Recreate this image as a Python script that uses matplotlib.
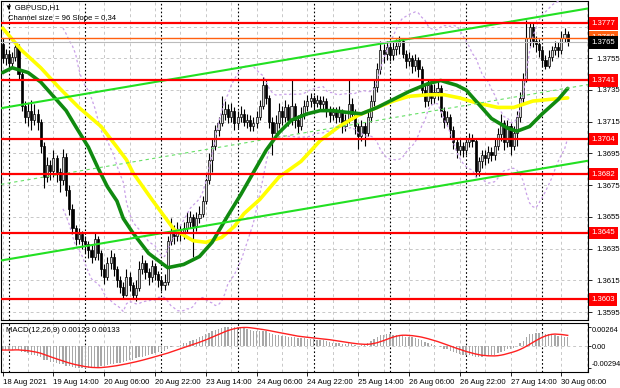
import numpy as np
import pandas as pd
import matplotlib
matplotlib.use("Agg")
import matplotlib.pyplot as plt
from matplotlib.transforms import blended_transform_factory

plt.rcParams["font.family"] = ["Liberation Sans", "DejaVu Sans"]

# ---------------- data (GBPUSD H1, 18 Aug 2021 22:00 -> 30 Aug 2021 08:00) -------------
first_open = 1.3764
closes = [1.3755,1.3758,1.3752,1.3756,1.3762,1.3745,1.3725,1.3718,1.3722,1.3716,
          1.3720,1.3715,1.3700,1.3680,1.3688,1.3684,1.3692,1.3683,1.3678,1.3693,
          1.3672,1.3660,1.3648,1.3641,1.3644,1.3640,1.3638,1.3634,1.3630,1.3641,
          1.3632,1.3622,1.3617,1.3626,1.3630,1.3622,1.3615,1.3611,1.3606,1.3617,
          1.3612,1.3606,1.3610,1.3622,1.3626,1.3620,1.3617,1.3624,1.3619,1.3615,
          1.3612,1.3614,1.3640,1.3646,1.3643,1.3647,1.3644,1.3648,1.3652,1.3655,
          1.3649,1.3654,1.3657,1.3665,1.3678,1.3691,1.3700,1.3710,1.3714,1.3720,
          1.3723,1.3718,1.3722,1.3714,1.3718,1.3720,1.3715,1.3716,1.3712,1.3714,
          1.3718,1.3725,1.3738,1.3730,1.3715,1.3708,1.3714,1.3722,1.3718,1.3724,
          1.3716,1.3725,1.3716,1.3712,1.3720,1.3725,1.3728,1.3730,1.3727,1.3729,
          1.3726,1.3728,1.3722,1.3719,1.3721,1.3718,1.3721,1.3712,1.3716,1.3726,
          1.3720,1.3712,1.3706,1.3712,1.3708,1.3718,1.3728,1.3737,1.3748,1.3760,
          1.3758,1.3762,1.3757,1.3761,1.3763,1.3766,1.3758,1.3753,1.3755,1.3750,
          1.3754,1.3748,1.3735,1.3728,1.3738,1.3730,1.3734,1.3736,1.3722,1.3715,
          1.3718,1.3710,1.3702,1.3697,1.3700,1.3697,1.3702,1.3705,1.3703,1.3684,
          1.3690,1.3694,1.3692,1.3696,1.3694,1.3700,1.3707,1.3714,1.3702,1.3712,
          1.3700,1.3708,1.3718,1.3730,1.3742,1.3768,1.3775,1.3766,1.3764,1.3760,
          1.3754,1.3750,1.3756,1.3760,1.3762,1.3760,1.3768,1.3770,1.3765]
highs = [1.3768,1.3761,1.3760,1.3759,1.3765,1.3764,1.3747,1.3728,1.3727,1.3729,
         1.3726,1.3723,1.3717,1.3702,1.3693,1.3691,1.3697,1.3694,1.3686,1.3698,
         1.3695,1.3675,1.3663,1.3650,1.3648,1.3646,1.3643,1.3640,1.3637,1.3645,
         1.3643,1.3634,1.3625,1.3630,1.3634,1.3632,1.3624,1.3618,1.3614,1.3622,
         1.3620,1.3614,1.3615,1.3627,1.3631,1.3628,1.3623,1.3628,1.3626,1.3621,
         1.3618,1.3619,1.3643,1.3654,1.3650,1.3652,1.3650,1.3652,1.3658,1.3659,
         1.3657,1.3658,1.3662,1.3668,1.3682,1.3695,1.3705,1.3713,1.3718,1.3731,
         1.3728,1.3726,1.3727,1.3724,1.3722,1.3725,1.3723,1.3720,1.3719,1.3718,
         1.3722,1.3729,1.3743,1.3741,1.3732,1.3718,1.3719,1.3727,1.3725,1.3729,
         1.3726,1.3741,1.3727,1.3719,1.3724,1.3729,1.3732,1.3733,1.3732,1.3732,
         1.3731,1.3731,1.3730,1.3725,1.3724,1.3724,1.3725,1.3723,1.3720,1.3742,
         1.3730,1.3723,1.3714,1.3716,1.3715,1.3722,1.3732,1.3741,1.3752,1.3766,
         1.3764,1.3766,1.3765,1.3765,1.3767,1.3769,1.3767,1.3760,1.3759,1.3757,
         1.3758,1.3756,1.3750,1.3738,1.3742,1.3741,1.3739,1.3741,1.3738,1.3724,
         1.3722,1.3720,1.3712,1.3705,1.3704,1.3702,1.3705,1.3708,1.3707,1.3704,
         1.3693,1.3697,1.3697,1.3700,1.3699,1.3704,1.3711,1.3720,1.3716,1.3716,
         1.3714,1.3712,1.3722,1.3734,1.3746,1.3779,1.3778,1.3778,1.3769,1.3767,
         1.3763,1.3757,1.3760,1.3763,1.3766,1.3765,1.3772,1.3774,1.3772]
lows = [1.3752,1.3751,1.3748,1.3749,1.3753,1.3742,1.3722,1.3714,1.3712,1.3710,
        1.3713,1.3710,1.3695,1.3673,1.3677,1.3678,1.3680,1.3677,1.3671,1.3675,
        1.3668,1.3656,1.3644,1.3637,1.3638,1.3635,1.3632,1.3629,1.3626,1.3628,
        1.3628,1.3618,1.3613,1.3615,1.3622,1.3618,1.3611,1.3607,1.3604,1.3605,
        1.3608,1.3603,1.3602,1.3608,1.3619,1.3616,1.3612,1.3614,1.3615,1.3611,
        1.3608,1.3609,1.3612,1.3637,1.3638,1.3640,1.3640,1.3641,1.3645,1.3648,
        1.3630,1.3646,1.3651,1.3655,1.3663,1.3676,1.3683,1.3697,1.3706,1.3712,
        1.3716,1.3714,1.3715,1.3710,1.3711,1.3715,1.3712,1.3711,1.3709,1.3709,
        1.3711,1.3716,1.3723,1.3726,1.3711,1.3694,1.3704,1.3711,1.3713,1.3715,
        1.3712,1.3713,1.3711,1.3708,1.3710,1.3717,1.3722,1.3724,1.3723,1.3724,
        1.3722,1.3722,1.3718,1.3715,1.3716,1.3714,1.3715,1.3708,1.3709,1.3714,
        1.3716,1.3707,1.3698,1.3703,1.3700,1.3706,1.3715,1.3725,1.3734,1.3745,
        1.3752,1.3754,1.3753,1.3754,1.3757,1.3758,1.3755,1.3749,1.3750,1.3746,
        1.3747,1.3743,1.3731,1.3724,1.3725,1.3726,1.3727,1.3729,1.3718,1.3711,
        1.3712,1.3705,1.3698,1.3692,1.3694,1.3693,1.3694,1.3699,1.3699,1.3680,
        1.3681,1.3686,1.3688,1.3689,1.3690,1.3691,1.3697,1.3703,1.3697,1.3699,
        1.3694,1.3697,1.3700,1.3715,1.3727,1.3740,1.3763,1.3762,1.3759,1.3756,
        1.3750,1.3748,1.3749,1.3753,1.3757,1.3756,1.3758,1.3765,1.3763]

# MACD(12,26,9) main values read per bar from the lower window
macd_main = [-0.0005,-0.0005,-0.0005,-0.0005,-0.0004,-0.0005,-0.0007,-0.0008,-0.0009,-0.0011,
             -0.0012,-0.0013,-0.0015,-0.0018,-0.0019,-0.0021,-0.0021,-0.0022,-0.0024,-0.0024,
             -0.0026,-0.0027,-0.0028,-0.0029,-0.0029,-0.0029,-0.0029,-0.0029,-0.0029,-0.0028,
             -0.0028,-0.0027,-0.0026,-0.0025,-0.0024,-0.0024,-0.0023,-0.0022,-0.0021,-0.0020,
             -0.0019,-0.0018,-0.0016,-0.0015,-0.0014,-0.0013,-0.0012,-0.0010,-0.0009,-0.0008,
             -0.0007,-0.0006,-0.0003,-0.0001,0.0000,0.0001,0.0002,0.0004,0.0005,0.0007,
             0.0008,0.0010,0.0012,0.0014,0.0016,0.0018,0.0020,0.0022,0.0023,0.0025,
             0.0026,0.00264,0.00262,0.0026,0.0026,0.0025,0.0024,0.0023,0.0022,0.0021,
             0.0021,0.0020,0.0021,0.0020,0.0018,0.0016,0.0015,0.0015,0.0014,0.0014,
             0.0013,0.0013,0.0012,0.0011,0.0011,0.0011,0.0010,0.0010,0.0010,0.0009,
             0.0009,0.0008,0.0007,0.0006,0.0005,0.0004,0.0004,0.0003,0.0003,0.0004,
             0.0003,0.0002,0.0001,0.0002,0.0002,0.0004,0.0007,0.0010,0.0013,0.0015,
             0.0015,0.0016,0.0016,0.0015,0.0015,0.0015,0.0014,0.0013,0.0013,0.0012,
             0.0011,0.0010,0.0008,0.0006,0.0005,0.0003,0.0002,0.0001,-0.0001,-0.0003,
             -0.0004,-0.0006,-0.0007,-0.0009,-0.0010,-0.0011,-0.0011,-0.0012,-0.0013,-0.0014,
             -0.0014,-0.0014,-0.0013,-0.0013,-0.0012,-0.0011,-0.0009,-0.0007,-0.0006,-0.0004,
             -0.0003,-0.0002,0.0000,0.0004,0.0007,0.0012,0.0016,0.0017,0.0018,0.0018,
             0.0017,0.0016,0.0016,0.0015,0.0015,0.0014,0.0014,0.0013,0.00123]

# moving averages (bar index, price)
ma_green_bars = [0,3,8,12,16,20,23,27,30,33,36,38,41,46,52,57,62,66,71,75,79,83,87,91,
                 96,100,104,108,113,118,123,128,134,138,143,146,150,154,159,162,166,170,175,178]
ma_green = [1.3746,1.3749,1.3746,1.3740,1.3731,1.3722,1.3712,1.3699,1.3686,1.3674,1.3665,
            1.3654,1.3645,1.3632,1.3623,1.3625,1.3630,1.3639,1.3656,1.3669,1.3683,1.3697,
            1.3708,1.3716,1.3720,1.3722,1.3722,1.3721,1.3720,1.3724,1.3729,1.3734,1.3739,
            1.3741,1.3738,1.3735,1.3726,1.3717,1.3711,1.3709,1.3712,1.3720,1.3729,1.3736]
ma_yellow_bars = [0,6,12,18,24,31,36,39,41,47,54,60,64,69,73,76,81,87,94,100,106,112,
                  118,123,128,134,139,144,149,156,161,167,172,178]
ma_yellow = [1.3774,1.3760,1.3749,1.3736,1.3724,1.3712,1.3699,1.3691,1.3683,1.3666,1.3647,
             1.3640,1.3639,1.3642,1.3649,1.3657,1.3666,1.3680,1.3690,1.3703,1.3712,1.3719,
             1.3724,1.3728,1.3731,1.3732,1.3732,1.3730,1.3727,1.3724,1.3724,1.3728,1.3729,1.3730]

# regression channel (GBPUSD,H1: size 96 pips, slope 0.34 pips/bar)
channel_mid_start = 1.36757
channel_slope = 0.000034
channel_half = 0.0048

red_levels = [1.3777, 1.3741, 1.3704, 1.3682, 1.3645, 1.3603]
orange_level = 1.3768
bid_price = 1.3765

price_ticks = [1.3775, 1.3755, 1.3735, 1.3715, 1.3695, 1.3675, 1.3655, 1.3635, 1.3615, 1.3595]
price_tick_labels = ["", "1.3755", "1.3735", "1.3715", "1.3695", "1.3675", "1.3655",
                     "1.3635", "1.3615", "1.3595"]
time_tick_bars = [0, 16, 32, 48, 64, 80, 96, 112, 128, 144, 160, 176]
time_tick_labels = ["18 Aug 2021", "19 Aug 14:00", "20 Aug 06:00", "20 Aug 22:00",
                    "23 Aug 14:00", "24 Aug 06:00", "24 Aug 22:00", "25 Aug 14:00",
                    "26 Aug 06:00", "26 Aug 22:00", "27 Aug 14:00", "30 Aug 06:00"]
day_sep_bars = [2, 26, 50, 74, 98, 122, 146, 170]
macd_ticks = [0.00264, 0.0, -0.00294]
macd_tick_labels = ["0.00264", "0.00", "-0.00294"]

# ---------------- derived series ----------------
c = np.array(closes)
o = np.array([first_open] + closes[:-1])
h = np.maximum(np.array(highs), np.maximum(o, c))
l = np.minimum(np.array(lows), np.minimum(o, c))
n = len(c)
idx = np.arange(n)

s = pd.Series(c)
mid = s.rolling(20).mean()
sd = s.rolling(20).std(ddof=0)
bb_up = mid + 2 * sd
bb_lo = mid - 2 * sd

macd = pd.Series(macd_main)
signal = macd.rolling(9, min_periods=1).mean()

# ---------------- figure ----------------
W, H = 620, 388
FS = 5.6
fig = plt.figure(figsize=(W / 100, H / 100), dpi=100)
fig.patch.set_facecolor("white")
ax = fig.add_axes([1 / W, 1 - 320 / H, 587 / W, 319 / H])
ax2 = fig.add_axes([1 / W, 1 - 372 / H, 587 / W, 49 / H])

x0, x1 = -0.52, 184.4
ax.set_xlim(x0, x1)
ax.set_ylim(1.35900, 1.37911)
ax2.set_xlim(x0, x1)
ax2.set_ylim(-0.00345, 0.00313)

grid_col = "#c8c8c8"
for a in (ax, ax2):
    for b in range(0, 185, 8):
        a.axvline(b, color=grid_col, lw=0.7, ls=(0, (3, 3)), zorder=0)
    for b in day_sep_bars:
        a.axvline(b, color="black", lw=0.8, ls=(0, (1.5, 2)), zorder=1)
    for sp in a.spines.values():
        sp.set_color("black")
        sp.set_linewidth(0.8)
for p in price_ticks:
    ax.axhline(p, color=grid_col, lw=0.7, ls=(0, (3, 3)), zorder=0)
ax2.axhline(0, color=grid_col, lw=0.7, ls=(0, (3, 3)), zorder=0)

# candles
bull = c >= o
ax.vlines(idx, l, h, color="black", lw=0.8, zorder=3)
ax.bar(idx[bull], (c - o)[bull], bottom=o[bull], width=0.66, color="#d8d8d8",
       edgecolor="black", linewidth=0.5, zorder=4)
ax.bar(idx[~bull], (c - o)[~bull], bottom=o[~bull], width=0.66, color="black",
       edgecolor="black", linewidth=0.5, zorder=4)

# Bollinger bands
ax.plot(idx, bb_up, color="#c9a0e8", lw=0.9, ls=(0, (2, 2)), zorder=5)
ax.plot(idx, bb_lo, color="#c9a0e8", lw=0.9, ls=(0, (2, 2)), zorder=5)

# moving averages
ax.plot(ma_yellow_bars, ma_yellow, color="#ffff00", lw=2.6, zorder=6, solid_capstyle="round")
ax.plot(ma_green_bars, ma_green, color="#108a10", lw=2.6, zorder=7, solid_capstyle="round")

# regression channel
xs = np.array([x0, x1])
midline = channel_mid_start + channel_slope * xs
ax.plot(xs, midline + channel_half, color="#22e022", lw=1.5, zorder=8)
ax.plot(xs, midline - channel_half, color="#22e022", lw=1.5, zorder=8)
ax.plot(xs, midline, color="#66e066", lw=0.8, ls=(0, (3, 3)), zorder=8)

# horizontal levels
ax.axhline(bid_price, color="#bbbbbb", lw=0.8, zorder=8)
for p in red_levels:
    ax.axhline(p, color="#ff0000", lw=1.6, zorder=9)
ax.axhline(orange_level, color="#ff6010", lw=1.0, zorder=9)

# axes ticks
ax.yaxis.tick_right()
ax.set_yticks(price_ticks)
ax.set_yticklabels(price_tick_labels)
ax.tick_params(axis="y", labelsize=FS, length=3, pad=3, width=0.6)
ax.set_xticks([])

ax2.yaxis.tick_right()
ax2.set_yticks(macd_ticks)
ax2.set_yticklabels(macd_tick_labels)
ax2.tick_params(axis="y", labelsize=5.3, length=2, pad=1, width=0.6)
tl = ax2.get_yticklabels()
tl[0].set_va("top")
tl[2].set_va("bottom")
ax2.set_xticks(time_tick_bars)
ax2.set_xticklabels(time_tick_labels)
ax2.tick_params(axis="x", labelsize=FS, length=3, pad=2, width=0.6)
for t in ax2.get_xticklabels():
    t.set_ha("left")

# price label boxes
tr = blended_transform_factory(ax.transAxes, ax.transData)
def box(price, text, fc):
    ax.text(1.0055, price, text, transform=tr, fontsize=FS, color="white",
            va="center", ha="left", clip_on=False, zorder=20,
            bbox=dict(boxstyle="square,pad=0.35", fc=fc, ec="none"))
for p in red_levels:
    box(p, f"{p:.4f}", "#ff0000")
box(orange_level, f"{orange_level:.4f}", "#ff6010")
box(bid_price, f"{bid_price:.4f}", "black")

# MACD
ax2.bar(idx, macd, width=0.42, color="#a8a8a8", zorder=2)
ax2.plot(idx, signal, color="#ff2020", lw=1.0, zorder=3)

# texts
fig.text(5 / W, 1 - 8 / H, "\u25bc GBPUSD,H1", fontsize=FS, va="center", ha="left")
fig.text(8 / W, 1 - 19 / H, "Channel size = 96 Slope = 0,34", fontsize=FS,
         va="center", ha="left")
fig.text(6 / W, 1 - 330 / H, "MACD(12,26,9) 0.00123 0.00133", fontsize=FS,
         va="center", ha="left")

fig.savefig("out.png", dpi=100, facecolor="white")
